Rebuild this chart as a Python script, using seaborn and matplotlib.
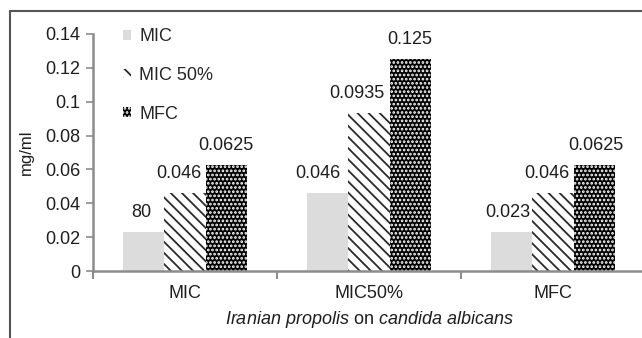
import matplotlib
matplotlib.use("Agg")
import matplotlib.pyplot as plt
from matplotlib.lines import Line2D
from matplotlib.ticker import FuncFormatter, FixedLocator
import seaborn as sns
import pandas as pd

# Test groups on the x axis and the three measured series (mg/ml)
groups = ["MIC", "MIC50%", "MFC"]
series = ["MIC", "MIC 50%", "MFC"]
mic_vals = [0.023, 0.046, 0.023]
mic50_vals = [0.046, 0.0935, 0.046]
mfc_vals = [0.0625, 0.125, 0.0625]

# Printed labels above each bar, per series
mic_labels = ["80", "0.046", "0.023"]
mic50_labels = ["0.046", "0.0935", "0.046"]
mfc_labels = ["0.0625", "0.125", "0.0625"]

yticks = [0, 0.02, 0.04, 0.06, 0.08, 0.1, 0.12, 0.14]

df = pd.DataFrame({
    "group": groups * 3,
    "series": [series[0]] * 3 + [series[1]] * 3 + [series[2]] * 3,
    "value": mic_vals + mic50_vals + mfc_vals,
})

sns.set_theme(style="white")
plt.rcParams["font.family"] = ["Liberation Sans", "DejaVu Sans"]
plt.rcParams["mathtext.fontset"] = "custom"
plt.rcParams["mathtext.rm"] = "Liberation Sans"
plt.rcParams["mathtext.it"] = "Liberation Sans:italic"
plt.rcParams["hatch.linewidth"] = 1.3

FS = 13
spine_col = "#8c8c8c"
text_col = "#1e1e1e"

fig = plt.figure(figsize=(6.42, 3.38), dpi=100)
W, H = 642, 338
PX = 72 / 100  # points per pixel
ax = fig.add_axes([93 / W, 1 - 271 / H, 552 / W, (271 - 34) / H])

palette = {"MIC": "#dcdcdc", "MIC 50%": "white", "MFC": "black"}
sns.barplot(data=df, x="group", y="value", hue="series", order=groups,
            hue_order=series, palette=palette, width=0.67, gap=0,
            linewidth=0, saturation=1, ax=ax, legend=True)

hatch_spec = {
    "MIC 50%": ("\\\\\\", "#2a2a2a"),
    "MFC": ("....", "white"),
}


def apply_hatch(patch, name):
    if name in hatch_spec:
        h, c = hatch_spec[name]
        patch.set_hatch(h)
        patch.set_edgecolor(c)
        patch.set_linewidth(0)


for cont, name in zip(ax.containers, series):
    for bar in cont:
        apply_hatch(bar, name)

# value labels; horizontal nudges (px) keep neighbouring labels apart
label_sets = [mic_labels, mic50_labels, mfc_labels]
nudges = [[-3, -10, -4], [-6, -12, -6], [0, 0, 2]]
for cont, labs, dxs in zip(ax.containers, label_sets, nudges):
    anns = ax.bar_label(cont, labels=labs, padding=8, fontsize=FS,
                        color=text_col)
    for ann, dx in zip(anns, dxs):
        ann.xyann = (dx * PX, ann.xyann[1])

# legend: small square handles, wide row spacing
handles, labels = ax.get_legend_handles_labels()
for hd, name in zip(handles, series):
    apply_hatch(hd, name)
ax.legend(handles, labels, loc="upper left", frameon=False, fontsize=FS,
          bbox_to_anchor=(116 / W, 1 - 21 / H), bbox_transform=fig.transFigure,
          handlelength=0.45, handleheight=0.45, handletextpad=0.45,
          labelspacing=1.2, borderaxespad=0)

ax.set_ylim(0, 0.14)
ax.set_xlim(-0.5, 2.5)
ax.yaxis.set_major_locator(FixedLocator(yticks))
ax.yaxis.set_major_formatter(FuncFormatter(lambda v, p: f"{v:g}"))
ax.set_xticks(range(len(groups)))
ax.set_xticklabels(groups)
ax.xaxis.set_minor_locator(FixedLocator([-0.5, 0.5, 1.5, 2.5]))
ax.tick_params(axis="x", which="major", length=0, pad=10, labelsize=FS,
               labelcolor=text_col)
ax.tick_params(axis="x", which="minor", length=6, width=1.5, color=spine_col,
               direction="out", bottom=True)
ax.tick_params(axis="y", length=5, width=1.2, color=spine_col, left=True,
               direction="out", labelsize=FS, labelcolor=text_col, pad=4)

for s in ["top", "right"]:
    ax.spines[s].set_visible(False)
for s in ["left", "bottom"]:
    ax.spines[s].set_color(spine_col)
    ax.spines[s].set_linewidth(1.8)

ax.set_ylabel("mg/ml", fontsize=FS - 1, color=text_col, labelpad=8)
ax.set_xlabel(r"$\it{Iranian\ propolis}$ on $\it{candida\ albicans}$",
              fontsize=FS, color=text_col, labelpad=5)

# outer frame lines
fig.add_artist(Line2D([10 / W, 1], [1 - 11 / H, 1 - 11 / H],
                      transform=fig.transFigure, color="#555555", lw=1.5))
fig.add_artist(Line2D([10 / W, 10 / W], [0, 1 - 11 / H],
                      transform=fig.transFigure, color="#555555", lw=1.5))

fig.savefig("out.png", dpi=100)
